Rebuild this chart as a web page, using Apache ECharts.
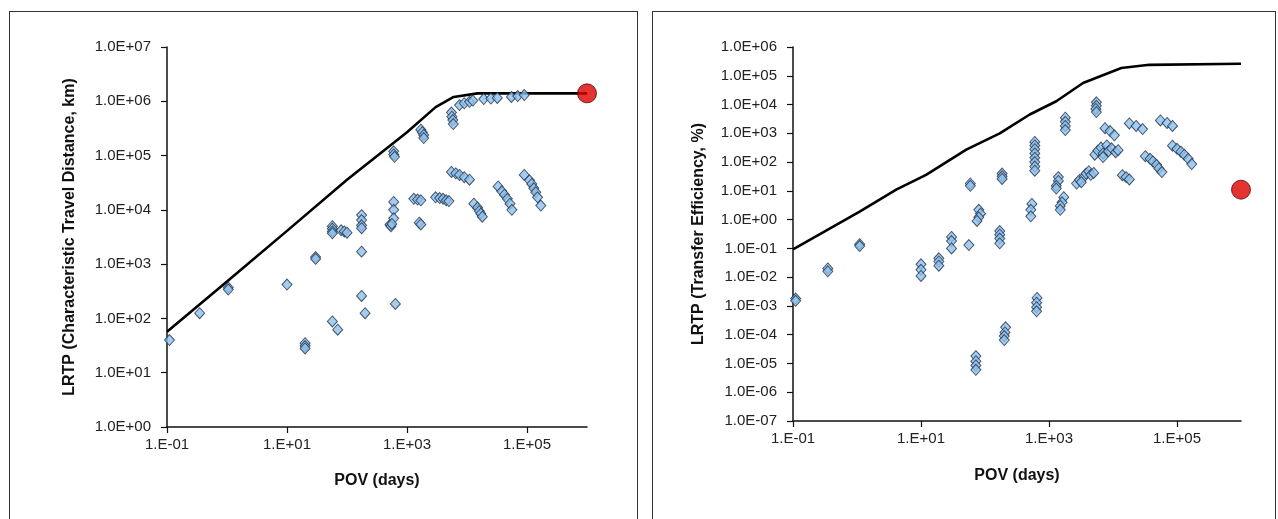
<!DOCTYPE html>
<html>
<head>
<meta charset="utf-8">
<script src="https://cdn.jsdelivr.net/npm/echarts@6/dist/echarts.min.js"></script>
<style>
  html, body { margin: 0; padding: 0; background: #fff; width: 1278px; height: 519px; overflow: hidden; }
  .frame { position: absolute; border: 1.4px solid #333; box-sizing: border-box; }
  #chart { position: absolute; left: 0; top: 0; width: 1278px; height: 519px; }
</style>
</head>
<body>
<div class="frame" style="left:9px; top:11px; width:629px; height:540px;"></div>
<div class="frame" style="left:652px; top:11px; width:624px; height:540px;"></div>
<div id="chart"></div>
<script>
// ---------- Left chart: Characteristic Travel Distance ----------
const leftXTicks = [0.1, 10, 1000, 100000];
const leftXTickLabels = ['1.E-01', '1.E+01', '1.E+03', '1.E+05'];
const leftYTicks = [1, 10, 100, 1000, 10000, 100000, 1000000, 10000000];
const leftYTickLabels = ['1.0E+00', '1.0E+01', '1.0E+02', '1.0E+03', '1.0E+04', '1.0E+05', '1.0E+06', '1.0E+07'];

const leftLineX = [0.1, 1, 10, 100, 1000, 3000, 6000, 15000, 1000000];
const leftLineY = [57, 480, 4100, 36000, 270000, 780000, 1200000, 1400000, 1400000];

const leftPointX = [
  0.11, 0.35, 1.05, 1.05, 10, 20, 20, 20, 30, 30, 57, 70,
  57, 57, 57, 57, 80, 90, 100,
  175, 175, 175, 175, 175, 175, 200, 640, 520, 540,
  600, 600, 600, 560, 600, 600, 620,
  1700, 1800, 1900, 1900, 5500, 5600, 5800, 5900,
  7500, 9000, 11000, 12500, 19000, 25000, 32000, 55000, 70000, 90000,
  5500, 6500, 7500, 9000, 11000, 1300, 1500, 1700, 1600, 1700,
  3000, 3500, 4000, 4500, 5000,
  13000, 15000, 16000, 17000, 18000,
  33000, 38000, 42000, 47000, 52000, 56000,
  90000, 110000, 120000, 130000, 140000, 150000, 170000
];
const leftPointY = [
  40, 125, 370, 340, 420, 35, 31, 28, 1350, 1250, 88, 62,
  5000, 4500, 4000, 3700, 4200, 4000, 3800,
  8000, 6500, 5200, 4600, 1700, 260, 125, 185, 5300, 5000,
  14000, 10000, 7000, 5500, 120000, 105000, 95000,
  300000, 270000, 240000, 210000, 620000, 520000, 450000, 380000,
  850000, 920000, 980000, 1030000, 1100000, 1120000, 1150000, 1200000, 1250000, 1300000,
  50000, 47000, 44000, 40000, 36000, 16000, 15500, 15000, 5800, 5400,
  17000, 16500, 16000, 15000, 14500,
  13000, 11000, 9500, 8500, 7500,
  27000, 22000, 19000, 16000, 13000, 10000,
  44000, 35000, 30000, 25000, 21000, 17000, 12000
];
const leftRefX = [1000000];
const leftRefY = [1400000];

// ---------- Right chart: Transfer Efficiency ----------
const rightXTicks = [0.1, 10, 1000, 100000];
const rightXTickLabels = ['1.E-01', '1.E+01', '1.E+03', '1.E+05'];
const rightYTicks = [1e-7, 1e-6, 1e-5, 1e-4, 1e-3, 1e-2, 1e-1, 1, 10, 100, 1000, 10000, 100000, 1000000];
const rightYTickLabels = ['1.0E-07', '1.0E-06', '1.0E-05', '1.0E-04', '1.0E-03', '1.0E-02', '1.0E-01',
  '1.0E+00', '1.0E+01', '1.0E+02', '1.0E+03', '1.0E+04', '1.0E+05', '1.0E+06'];

const rightLineX = [0.1, 1.1, 4.1, 12, 51, 170, 500, 1300, 3400, 13500, 37000, 1000000];
const rightLineY = [0.093, 1.9, 11, 36, 270, 1000, 4500, 13000, 56000, 186000, 240000, 263000];

const rightPointX = [
  0.11, 0.11, 0.35, 0.35, 1.1, 1.1,
  10, 10, 10, 19, 19, 19, 30, 30, 30, 56,
  80, 85, 80, 75, 170, 170, 170, 170,
  72, 72, 72, 72, 210, 205, 200, 200, 650, 640, 640, 640,
  540, 520, 520, 59, 59, 185, 185, 185,
  600, 600, 600, 600, 600, 600, 600, 600,
  1400, 1400, 1300, 1300, 1700, 1600, 1500, 1500,
  1800, 1800, 1800, 1800,
  2700, 3000, 3500, 3800, 4200, 4500, 5000, 3200,
  5500, 5500, 5400, 5500,
  5200, 5800, 6500, 7000, 8000, 8500, 9500, 11000, 12000, 7000,
  7500, 9000, 10500, 14000, 16000, 18000, 18000, 23000, 29000,
  32000, 38000, 42000, 48000, 52000, 58000,
  55000, 70000, 85000,
  85000, 100000, 115000, 130000, 150000, 170000
];
const rightPointY = [
  0.0018, 0.0015, 0.02, 0.016, 0.14, 0.12,
  0.028, 0.018, 0.011, 0.045, 0.035, 0.025, 0.25, 0.18, 0.1, 0.13,
  2.2, 1.6, 1.2, 0.9, 0.4, 0.3, 0.22, 0.15,
  1.8e-5, 1.2e-5, 8.5e-6, 6e-6, 1.8e-4, 1.2e-4, 9e-5, 6.5e-5, 1.9e-3, 1.3e-3, 9e-4, 6.5e-4,
  3.5, 2.2, 1.3, 18, 15, 40, 32, 26,
  500, 380, 280, 200, 140, 100, 70, 50,
  30, 22, 15, 12, 6, 4, 3, 2.2,
  3500, 2500, 1800, 1300,
  18, 24, 30, 40, 48, 36, 42, 20,
  12000, 9000, 7000, 5500,
  180, 250, 320, 200, 380, 240, 300, 220, 260, 150,
  1500, 1200, 850, 35, 30, 25, 2200, 1800, 1400,
  160, 130, 105, 80, 60, 45,
  2800, 2300, 1800,
  370, 290, 230, 180, 130, 85
];
const rightRefX = [1000000];
const rightRefY = [11];

// ---------- helpers ----------
function zip(xs, ys) { return xs.map((x, i) => [x, ys[i]]); }
function labelFor(ticks, labels) {
  return function (v) {
    for (let i = 0; i < ticks.length; i++) {
      if (Math.abs(Math.log10(v) - Math.log10(ticks[i])) < 1e-6) return labels[i];
    }
    return '';
  };
}
const FONT = 'Liberation Sans, Arial, sans-serif';
const axisLine = { show: true, onZero: false, lineStyle: { color: '#111', width: 1.5 } };

function xAxisDef(grid, ticks, labels, gap) {
  return {
    type: 'log', logBase: 10, gridIndex: grid, min: 0.1, max: 1000000,
    axisLine: axisLine,
    axisTick: { show: true, length: 6, lineStyle: { color: '#111', width: 1.2 }, customValues: ticks },
    axisLabel: { customValues: ticks, formatter: labelFor(ticks, labels), color: '#222',
      fontFamily: FONT, fontSize: 15, margin: 10 },
    splitLine: { show: false }, minorTick: { show: false },
    name: 'POV (days)', nameLocation: 'middle', nameGap: gap,
    nameTextStyle: { fontFamily: FONT, fontWeight: 'bold', fontSize: 16, color: '#111' }
  };
}
function yAxisDef(grid, ticks, labels, minV, maxV, name, gap) {
  return {
    type: 'log', logBase: 10, gridIndex: grid, min: minV, max: maxV,
    axisLine: axisLine,
    axisTick: { show: true, length: 6, lineStyle: { color: '#111', width: 1.2 }, customValues: ticks },
    axisLabel: { customValues: ticks, formatter: labelFor(ticks, labels), color: '#222',
      fontFamily: FONT, fontSize: 15, margin: 16 },
    splitLine: { show: false }, minorTick: { show: false },
    name: name, nameLocation: 'middle', nameGap: gap, nameRotate: 90,
    nameTextStyle: { fontFamily: FONT, fontWeight: 'bold', fontSize: 16, color: '#111' }
  };
}
const diamondStyle = { color: '#8fc1ee', borderColor: '#22344a', borderWidth: 1 };
const refStyle = { color: '#dd0000', borderColor: '#5a0000', borderWidth: 1 };

const chart = echarts.init(document.getElementById('chart'), null, { renderer: 'canvas' });
chart.setOption({
  animation: false,
  backgroundColor: 'transparent',
  grid: [
    { left: 167, top: 47, width: 420, height: 380 },
    { left: 793, top: 47, width: 448, height: 374 }
  ],
  xAxis: [
    xAxisDef(0, leftXTicks, leftXTickLabels, 46),
    xAxisDef(1, rightXTicks, rightXTickLabels, 47)
  ],
  yAxis: [
    yAxisDef(0, leftYTicks, leftYTickLabels, 1, 10000000, 'LRTP (Characteristic Travel Distance, km)', 89),
    yAxisDef(1, rightYTicks, rightYTickLabels, 1e-7, 1000000, 'LRTP (Transfer Efficiency, %)', 86)
  ],
  series: [
    { type: 'line', xAxisIndex: 0, yAxisIndex: 0, data: zip(leftLineX, leftLineY), showSymbol: false,
      lineStyle: { color: '#000', width: 2.6 }, z: 2 },
    { type: 'scatter', xAxisIndex: 0, yAxisIndex: 0, data: zip(leftPointX, leftPointY), symbol: 'diamond',
      symbolSize: [10, 11], itemStyle: diamondStyle, z: 3 },
    { type: 'scatter', xAxisIndex: 0, yAxisIndex: 0, data: zip(leftRefX, leftRefY), symbol: 'circle',
      symbolSize: 19, itemStyle: refStyle, z: 4 },
    { type: 'line', xAxisIndex: 1, yAxisIndex: 1, data: zip(rightLineX, rightLineY), showSymbol: false,
      lineStyle: { color: '#000', width: 2.6 }, z: 2 },
    { type: 'scatter', xAxisIndex: 1, yAxisIndex: 1, data: zip(rightPointX, rightPointY), symbol: 'diamond',
      symbolSize: [10, 11], itemStyle: diamondStyle, z: 3 },
    { type: 'scatter', xAxisIndex: 1, yAxisIndex: 1, data: zip(rightRefX, rightRefY), symbol: 'circle',
      symbolSize: 19, itemStyle: refStyle, z: 4 }
  ]
});
</script>
</body>
</html>
